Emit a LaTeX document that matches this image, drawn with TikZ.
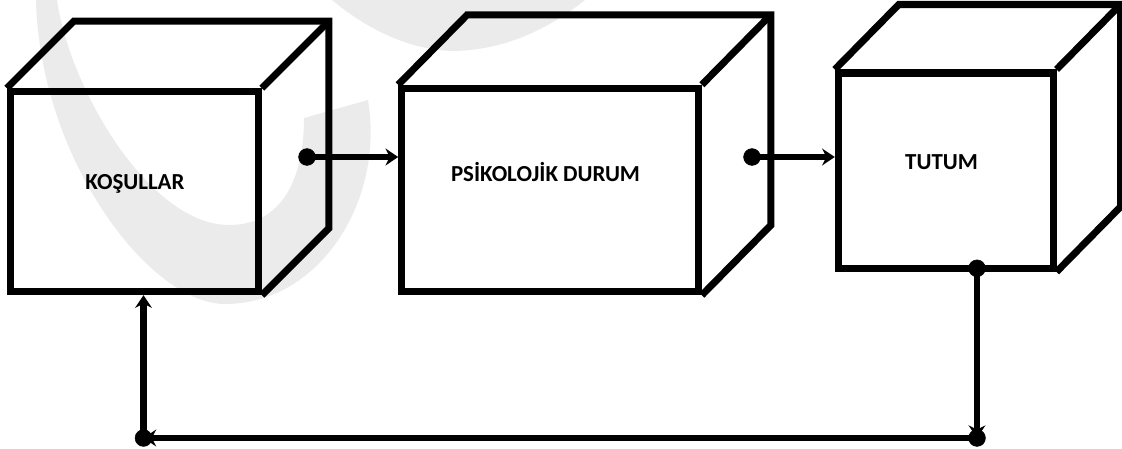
\documentclass[tikz,border=0pt]{standalone}
\usepackage{fontspec}
\setmainfont{Carlito}
\usepackage{tikz}
\usetikzlibrary{arrows.meta, calc, fit}

\tikzset{
    face/.style={draw, line width=5pt, inner sep=0pt},
    edge/.style={line width=5pt},
    link/.style={line width=4.5pt, -{Stealth[length=9pt, width=12pt, inset=3pt]}},
    boxtext/.style={font=\fontsize{16.3}{19}\selectfont\bfseries, anchor=base, inner sep=0pt},
    wm/.style={fill=black!8}
}

\begin{document}
\begin{tikzpicture}[x=0.025cm, y=-0.025cm]
        \useasboundingbox (0,0) rectangle (1122,448);

        % watermark
        \fill[wm] (36,0) -- (57,0) .. controls (70,90) and (150,225) .. (229,225) .. controls (290,225) and (304,165) .. (304,118) -- (368,100) .. controls (385,200) and (320,304) .. (225,304) .. controls (150,304) and (40,160) .. (36,0) -- cycle;
        \fill[wm] (332,0) .. controls (380,40) and (430,55) .. (470,50) .. controls (520,45) and (560,20) .. (585,0) -- cycle;

        % front faces
        \node[face, fit={(10.3,91.7) (258.3,291.7)}] (kosul) {};
        \node[face, fit={(401.7,88.3) (698.3,291.7)}] (psi) {};
        \node[face, fit={(838.3,73) (1053,268.3)}] (tutum) {};

        % back edges
        \draw[edge] (kosul.north west) -- ++(67,-67) -- ($(kosul.north east)+(67,-67)$) -- ($(kosul.south east)+(67,-67)$) -- (kosul.south east);
        \draw[edge] (kosul.north east) -- ++(67,-67);
        \draw[edge] (psi.north west) -- ++(69,-70) -- ($(psi.north east)+(69,-70)$) -- ($(psi.south east)+(69,-70)$) -- (psi.south east);
        \draw[edge] (psi.north east) -- ++(69,-70);
        \draw[edge] (tutum.north west) -- ++(64,-65) -- ($(tutum.north east)+(64,-65)$) -- ($(tutum.south east)+(64,-65)$) -- (tutum.south east);
        \draw[edge] (tutum.north east) -- ++(64,-65);

        % labels
        \node[boxtext] (kosultext) at (135,189.5) {KOŞULLAR};
        \node[boxtext] (psitext) at (545.5,181.7) {PSİKOLOJİK DURUM};
        \node[boxtext] (tutumtext) at (941.5,169.3) {TUTUM};

        % connectors
        \coordinate (kosulout) at (307,157);
        \coordinate (psiout) at (752,157);
        \coordinate (tutumout) at (977,268.3);
        \coordinate (corner-r) at (977,438);
        \coordinate (corner-l) at (143.5,438);

        \draw[link] (kosulout) -- (psi.west |- kosulout);
        \draw[link] (psiout) -- (tutum.west |- psiout);
        \draw[link] (tutumout) -- (corner-r);
        \draw[link] (corner-r) -- (corner-l);
        \draw[link] (corner-l) -- (kosul.south -| corner-l);

        \filldraw[black] (kosulout) circle (0.21cm);
        \filldraw[black] (psiout) circle (0.21cm);
        \filldraw[black] (tutumout) circle (0.21cm);
        \filldraw[black] (corner-r) circle (0.21cm);
        \filldraw[black] (corner-l) circle (0.21cm);
    \end{tikzpicture}
\end{document}
